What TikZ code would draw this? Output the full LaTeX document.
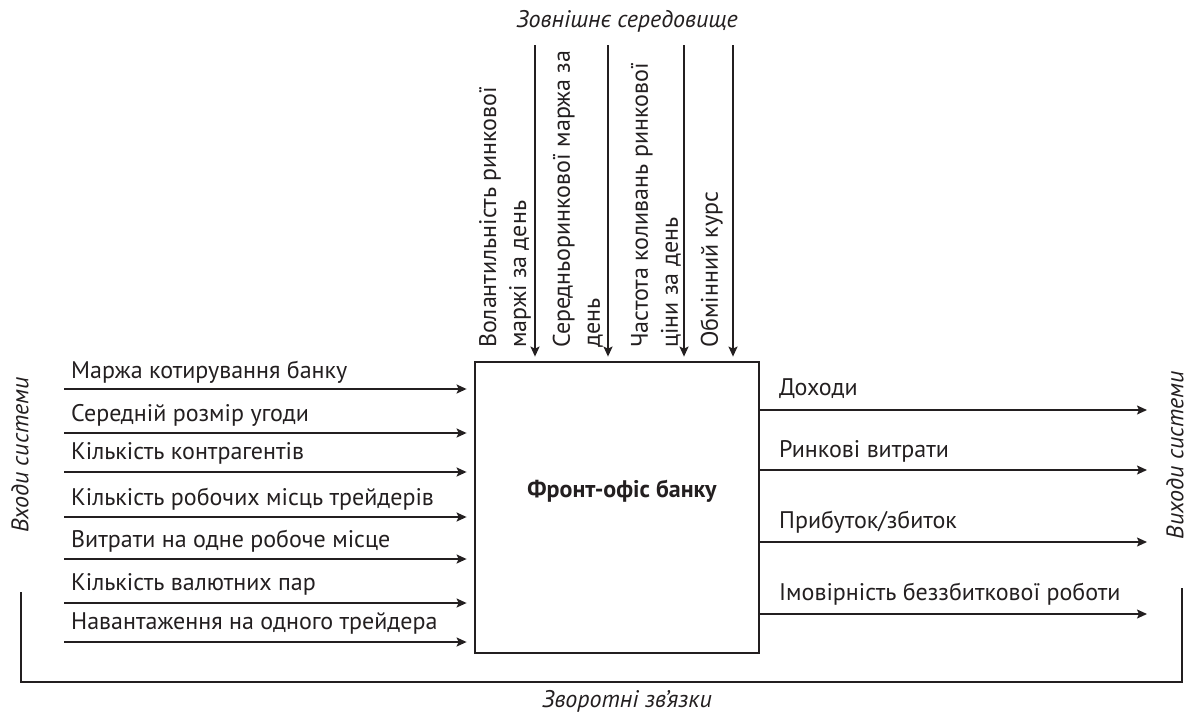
\documentclass[tikz,border=0pt]{standalone}
\usepackage{fontspec}
\setmainfont{PT Sans}
\usetikzlibrary{arrows.meta}
\definecolor{ink}{RGB}{35,31,32}

\begin{document}
\begin{tikzpicture}[x=1pt,y=-1pt,ink,text=ink,
  font=\fontsize{24}{30}\selectfont,
  arr/.style={line width=1.6pt,-{Stealth[length=10pt,width=9pt,inset=2pt]}},
  lbl/.style={anchor=base west,inner sep=0pt},
  vlbl/.style={rotate=90,anchor=south west,inner sep=0pt,align=left},
  side/.style={rotate=90,font=\fontsize{24}{30}\selectfont\itshape}]

\useasboundingbox (0,0) rectangle (1189,715);

% System box
\node[draw,line width=2.8pt,minimum width=284,minimum height=291] (box) at (617,507.5) {};
\node[anchor=base,font=\fontsize{24}{30}\selectfont\bfseries] (boxt) at (622,497) {Фронт-офіс банку};

% Environment
\node[anchor=base,font=\fontsize{24}{30}\selectfont\itshape] (env) at (627,27) {Зовнішнє середовище};
\coordinate (env1) at (535,45);
\coordinate (env2) at (608,45);
\coordinate (env3) at (684,45);
\coordinate (env4) at (733,45);
\draw[arr,shorten >=4pt] (env1) -- (env1 |- box.north);
\draw[arr,shorten >=4pt] (env2) -- (env2 |- box.north);
\draw[arr,shorten >=4pt] (env3) -- (env3 |- box.north);
\draw[arr,shorten >=4pt] (env4) -- (env4 |- box.north);
\node[vlbl] (env1t) at (531,348) {Волантильність ринкової\\маржі за день};
\node[vlbl] (env2t) at (603,348) {Середньоринкової маржа за\\день};
\node[vlbl] (env3t) at (681,348) {Частота коливань ринкової\\ціни за день};
\node[vlbl] (env4t) at (723,348) {Обмінний курс};

% Inputs
\node[side] (inputs) at (20,455) {Входи системи};
\coordinate (in1) at (64,389);
\coordinate (in2) at (64,433);
\coordinate (in3) at (64,472);
\coordinate (in4) at (64,517);
\coordinate (in5) at (64,559);
\coordinate (in6) at (64,603);
\coordinate (in7) at (64,642);
\draw[arr,shorten >=7pt] (in1) -- (in1 -| box.west);
\draw[arr,shorten >=7pt] (in2) -- (in2 -| box.west);
\draw[arr,shorten >=7pt] (in3) -- (in3 -| box.west);
\draw[arr,shorten >=7pt] (in4) -- (in4 -| box.west);
\draw[arr,shorten >=7pt] (in5) -- (in5 -| box.west);
\draw[arr,shorten >=7pt] (in6) -- (in6 -| box.west);
\draw[arr,shorten >=7pt] (in7) -- (in7 -| box.west);
\node[lbl] (in1t) at (71,378) {Маржа котирування банку};
\node[lbl] (in2t) at (71,421) {Середній розмір угоди};
\node[lbl] (in3t) at (71,459) {Кількість контрагентів};
\node[lbl] (in4t) at (71,505) {Кількість робочих місць трейдерів};
\node[lbl] (in5t) at (71,547) {Витрати на одне робоче місце};
\node[lbl] (in6t) at (71,590) {Кількість валютних пар};
\node[lbl] (in7t) at (71,629) {Навантаження на одного трейдера};

% Outputs
\node[side] (outputs) at (1175,455) {Виходи системи};
\coordinate (out1) at (1147,410);
\coordinate (out2) at (1147,470);
\coordinate (out3) at (1147,542);
\coordinate (out4) at (1147,614);
\draw[arr] (out1 -| box.east) -- (out1);
\draw[arr] (out2 -| box.east) -- (out2);
\draw[arr] (out3 -| box.east) -- (out3);
\draw[arr] (out4 -| box.east) -- (out4);
\node[lbl] (out1t) at (779,395) {Доходи};
\node[lbl] (out2t) at (779,457) {Ринкові витрати};
\node[lbl] (out3t) at (779,528) {Прибуток/збиток};
\node[lbl] (out4t) at (779,600) {Імовірність беззбиткової роботи};

% Feedback
\coordinate (fbl) at (21,592);
\coordinate (fbr) at (1182,588);
\draw[line width=1.6pt] (fbl) -- ++(0,90) -| (fbr);
\node[anchor=base,font=\fontsize{24}{30}\selectfont\itshape] (fb) at (627,707) {Зворотні зв’язки};

\end{tikzpicture}
\end{document}
